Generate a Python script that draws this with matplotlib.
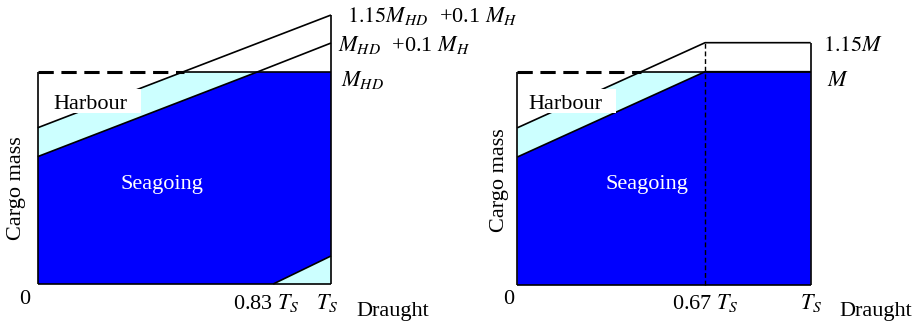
import numpy as np
import matplotlib
matplotlib.use("Agg")
import matplotlib.pyplot as plt
from matplotlib.patches import Polygon, Rectangle

plt.rcParams['font.family'] = ['Liberation Serif', 'DejaVu Serif']
plt.rcParams['mathtext.fontset'] = 'stix'

# ---------------- data (draught as fraction of T_S, mass as fraction of M) -------------
# left panel
left_draught = [0.0, 0.751, 1.0]          # seagoing limit break points
left_seagoing = [0.60, 1.0, 1.0]
left_lower_ext_end = 1.135                # seagoing line continued to T_S (M_HD + 0.1 M_H)
left_upper = [0.736, 1.267]               # harbour limit at 0 and T_S (1.15 M_HD + 0.1 M_H)
left_tri_x = [0.803, 1.0]                 # lower-right harbour triangle
left_tri_y = [0.0, 0.132]

# right panel
right_draught = [0.0, 0.64, 1.0]
right_seagoing = [0.60, 1.0, 1.0]
right_upper = [0.737, 1.136, 1.136]

FS = 16
BLUE = '#0000FF'
CYAN = '#CCFFFF'
LW = 1.2

W, H = 913, 327
fig = plt.figure(figsize=(W / 100, H / 100), dpi=100)


def add_ax(x0, x1, ytop, ybot):
    ax = fig.add_axes([x0 / W, (H - ybot) / H, (x1 - x0) / W, (ybot - ytop) / H])
    ax.set_xlim(0, 1)
    ax.set_ylim(0, 1)
    ax.axis('off')
    return ax


def cross_one(x0, y0, x1, y1):
    # x where segment reaches mass 1
    return x0 + (1 - y0) * (x1 - x0) / (y1 - y0)


# ================= LEFT =================
ax = add_ax(37.7, 331.0, 71.7, 284.0)
xs, ys = left_draught, left_seagoing
ax.add_patch(Polygon([(xs[0], 0)] + list(zip(xs, ys)) + [(xs[-1], 0)],
                     closed=True, fc=BLUE, ec='none', zorder=1))
xu = cross_one(0, left_upper[0], 1, left_upper[1])
ax.add_patch(Polygon([(0, ys[0]), (0, left_upper[0]), (xu, 1), (xs[1], 1)],
                     closed=True, fc=CYAN, ec='none', zorder=1))
ax.add_patch(Polygon([(left_tri_x[0], 0), (left_tri_x[1], 0), (left_tri_x[1], left_tri_y[1])],
                     closed=True, fc=CYAN, ec='none', zorder=1))
kw = dict(color='black', lw=LW, clip_on=False, zorder=3, solid_capstyle='butt')
ax.plot([0, 1], [0, 0], **kw)
ax.plot([0, 0], [0, 1], **kw)
ax.plot([1, 1], [0, left_upper[1]], **kw)
ax.plot([0, 1], left_upper, **kw)
ax.plot([xs[0], xs[1], 1], [ys[0], ys[1], left_lower_ext_end], **kw)
ax.plot([xu, 1], [1, 1], **kw)
ax.plot(left_tri_x, left_tri_y, **kw)
ax.plot([0, xu], [1, 1], color='black', lw=2.2, ls=(0, (5, 2.5)), clip_on=False, zorder=3)
ax.add_patch(Rectangle((0.02, 0.804), 0.331, 0.113, transform=ax.transAxes,
                       fc='white', ec='none', zorder=4))
ax.text(0.053, 0.823, 'Harbour', fontsize=FS, zorder=5)
ax.text(0.424, 0.446, 'Seagoing', fontsize=FS, color='white', ha='center', zorder=5)
ax.text(-0.071, 0.452, 'Cargo mass', fontsize=FS, rotation=90, ha='center', va='center')
ax.text(1.055, 1.235, r'$1.15M_{HD}$  +0.1 $M_H$', fontsize=FS, clip_on=False)
ax.text(1.024, 1.099, r'$M_{HD}$  +0.1 $M_H$', fontsize=FS, clip_on=False)
ax.text(1.034, 0.933, r'$M_{HD}$', fontsize=FS, clip_on=False)
ax.text(-0.043, -0.094, '0', fontsize=FS, ha='center')
ax.text(left_tri_x[0] - 0.025, -0.119, r'0.83 $T_S$', fontsize=FS, ha='center')
ax.text(0.987, -0.119, r'$T_S$', fontsize=FS, ha='center')
ax.text(1.085, -0.151, 'Draught', fontsize=FS)

# ================= RIGHT =================
ax = add_ax(517.3, 810.7, 71.7, 285.0)
xs, ys, yu = right_draught, right_seagoing, right_upper
ax.add_patch(Polygon([(xs[0], 0)] + list(zip(xs, ys)) + [(xs[-1], 0)],
                     closed=True, fc=BLUE, ec='none', zorder=1))
xu = cross_one(xs[0], yu[0], xs[1], yu[1])
ax.add_patch(Polygon([(0, ys[0]), (0, yu[0]), (xu, 1), (xs[1], 1)],
                     closed=True, fc=CYAN, ec='none', zorder=1))
ax.plot([0, 1], [0, 0], **kw)
ax.plot([0, 0], [0, 1], **kw)
ax.plot([1, 1], [0, yu[-1]], **kw)
ax.plot(xs, yu, **kw)
ax.plot(xs, ys, **kw)
ax.plot([xu, 1], [1, 1], **kw)
ax.plot([xs[1], xs[1]], [0, yu[1]], color='black', lw=1.0, ls=(0, (3.5, 2)), clip_on=False, zorder=3)
ax.plot([0, xu], [1, 1], color='black', lw=2.2, ls=(0, (5, 2.5)), clip_on=False, zorder=3)
ax.add_patch(Rectangle((0.01, 0.805), 0.325, 0.1125, transform=ax.transAxes,
                       fc='white', ec='none', zorder=4))
ax.text(0.0375, 0.824, 'Harbour', fontsize=FS, zorder=5)
ax.text(0.441, 0.449, 'Seagoing', fontsize=FS, color='white', ha='center', zorder=5)
ax.text(-0.062, 0.492, 'Cargo mass', fontsize=FS, rotation=90, ha='center', va='center')
ax.text(1.042, 1.098, r'$1.15M$', fontsize=FS, clip_on=False)
ax.text(1.055, 0.934, r'$M$', fontsize=FS, clip_on=False)
ax.text(-0.028, -0.089, '0', fontsize=FS, ha='center')
ax.text(xs[1], -0.1125, r'0.67 $T_S$', fontsize=FS, ha='center')
ax.text(1.003, -0.1125, r'$T_S$', fontsize=FS, ha='center')
ax.text(1.099, -0.145, 'Draught', fontsize=FS)

fig.savefig('out.png', dpi=100)
